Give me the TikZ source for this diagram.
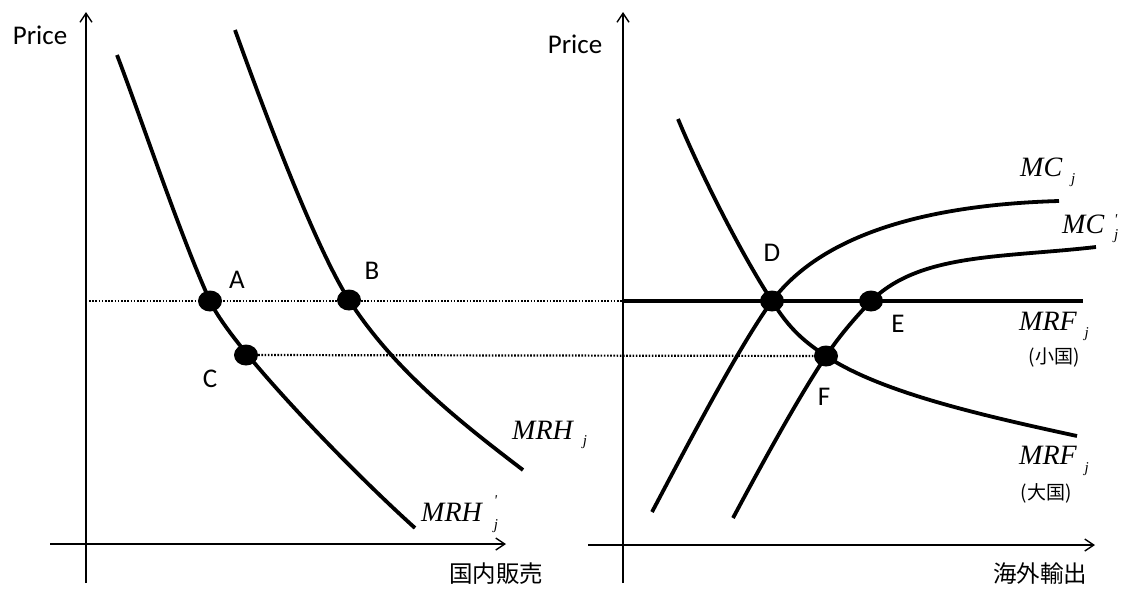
\documentclass[tikz,border=0pt]{standalone}
\usepackage{fontspec}
\setmainfont{Carlito}
\newfontfamily\jp{Noto Sans CJK JP}
\newfontfamily\tnr{Liberation Serif}
\usetikzlibrary{arrows.meta,shapes.geometric}
\newcommand{\mi}{\tnr\itshape\fontsize{28}{28}\selectfont}
\newcommand{\sj}{\tnr\itshape\fontsize{15}{15}\selectfont}
\begin{document}
\begin{tikzpicture}[x=1pt,y=-1pt,
  axis/.style={line width=1.4pt,-{Straight Barb[length=9pt,width=12pt,line width=1.4pt]}},
  curve/.style={line width=3.8pt},
  price/.style={line width=4.4pt},
  guide/.style={line width=2.2pt,dash pattern=on 1.6pt off 1.6pt},
  dot/.style={ellipse,fill=black,inner sep=0pt,minimum width=24pt,minimum height=21pt},
  lbl/.style={font=\fontsize{27}{27}\selectfont,inner sep=0pt},
  jlbl/.style={font=\jp\fontsize{23.5}{23.5}\selectfont,inner sep=0pt},
  clbl/.style={font=\jp\fontsize{19}{19}\selectfont,inner sep=0pt},
  mlbl/.style={anchor=base west,inner sep=0pt}]
\useasboundingbox (0,0) rectangle (1126,590);
% axes
\coordinate (l0) at (86,583); \coordinate (l1) at (86,12);
\coordinate (h0) at (50,544); \coordinate (h1) at (506,544);
\coordinate (r0) at (623,583); \coordinate (r1) at (623,12);
\coordinate (k0) at (588,545); \coordinate (k1) at (1095,545);
\draw[axis] (l0) -- (l1);
\draw[axis] (h0) -- (h1);
\draw[axis] (r0) -- (r1);
\draw[axis] (k0) -- (k1);
% points
\node[dot] (A) at (210,301) {};
\node[dot] (B) at (349,300) {};
\node[dot] (C) at (246,355) {};
\node[dot] (D) at (772,301) {};
\node[dot] (E) at (871,301) {};
\node[dot] (F) at (826,356) {};
% guide lines
\coordinate (g0) at (89,301); \coordinate (g1) at (623,301);
\draw[guide] (g0) -- (g1);
\draw[guide] (C) -- (F);
% MRF small country
\coordinate (m0) at (623,301); \coordinate (m1) at (1083,301);
\draw[price] (m0) -- (m1);
% left curves
\draw[curve] (117,55) .. controls (140,115) and (180,235) .. (A.center)
  .. controls (230,345) and (345,465) .. (415,528);
\draw[curve] (235,30) .. controls (262,105) and (314,245) .. (B.center)
  .. controls (394,370) and (460,422) .. (523,470);
% right curves
\draw[curve] (678,119) .. controls (700,172) and (740,252) .. (D.center)
  .. controls (790,330) and (805,342) .. (F.center)
  .. controls (880,392) and (980,415) .. (1077,436);
\draw[curve] (652,512) .. controls (690,440) and (740,345) .. (D.center)
  .. controls (820,237) and (920,205) .. (1059,201);
\draw[curve] (733,518) .. controls (765,458) and (800,395) .. (F.center)
  .. controls (840,335) and (855,318) .. (E.center)
  .. controls (920,253) and (1000,258) .. (1096,247);
% letters
\node[lbl] (tA) at (237,280) {A};
\node[lbl] (tB) at (372,271) {B};
\node[lbl] (tC) at (210,379) {C};
\node[lbl] (tD) at (772,253) {D};
\node[lbl] (tE) at (898,324) {E};
\node[lbl] (tF) at (824,397) {F};
% axis labels
\node[lbl] (p1) at (40,35) {Price};
\node[lbl] (p2) at (575,44) {Price};
\node[jlbl] (x1) at (496,574) {国内販売};
\node[jlbl] (x2) at (1040,574) {海外輸出};
% curve labels
\node[mlbl] (n1) at (512,439) {\mi MRH\hspace{10pt}\raisebox{-6pt}{\sj j}};
\node[mlbl] (n2) at (421,521) {\mi MRH\hspace{12pt}\raisebox{-8pt}{\sj\rlap{\raisebox{24pt}{\textquotesingle}}j}};
\node[mlbl] (n3) at (1020,176) {\mi MC\hspace{9pt}\raisebox{-7pt}{\sj j}};
\node[mlbl] (n4) at (1062,233) {\mi MC\hspace{10pt}\raisebox{-6pt}{\sj\rlap{\raisebox{15pt}{\textquotesingle}}j}};
\node[mlbl] (n5) at (1019,330) {\mi MRF\hspace{8pt}\raisebox{-7pt}{\sj j}};
\node[mlbl] (n6) at (1019,464) {\mi MRF\hspace{8pt}\raisebox{-8pt}{\sj j}};
\node[clbl] (s1) at (1054,358) {(小国)};
\node[clbl] (s2) at (1046,493) {(大国)};
\end{tikzpicture}
\end{document}
